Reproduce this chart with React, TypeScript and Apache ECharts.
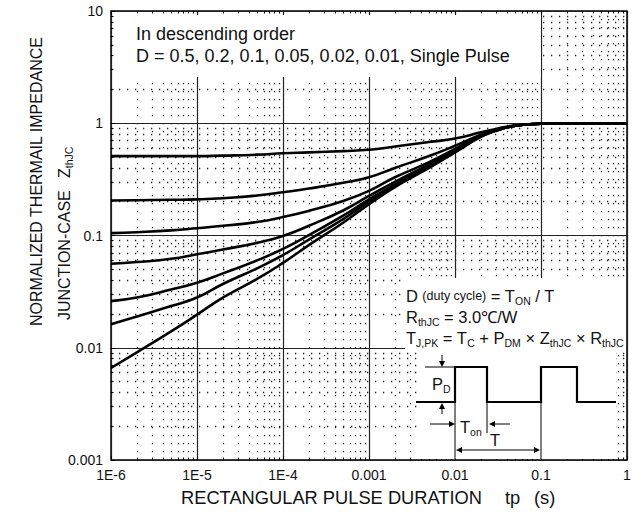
import React, { useEffect, useRef } from 'react';
import * as echarts from 'echarts';

const xTickLabels = ['1E-6', '1E-5', '1E-4', '0.001', '0.01', '0.1', '1'];
const yTickLabels = ['0.001', '0.01', '0.1', '1', '10'];

const pulseWidths = [1e-6, 2e-6, 5e-6, 1e-5, 2e-5, 5e-5, 1e-4, 2e-4, 5e-4, 1e-3, 2e-3, 5e-3, 1e-2, 2e-2, 3e-2, 5e-2, 1e-1, 2e-1, 5e-1, 1];

const seriesNames = ['D = 0.5', 'D = 0.2', 'D = 0.1', 'D = 0.05', 'D = 0.02', 'D = 0.01', 'Single Pulse'];
const zD050 = [0.51, 0.51, 0.51, 0.51, 0.515, 0.525, 0.54, 0.55, 0.565, 0.58, 0.62, 0.68, 0.73, 0.83, 0.89, 0.96, 0.99, 1.0, 1.0, 1.0];
const zD020 = [0.205, 0.206, 0.208, 0.21, 0.215, 0.227, 0.243, 0.262, 0.295, 0.33, 0.4, 0.51, 0.63, 0.79, 0.87, 0.95, 0.99, 1.0, 1.0, 1.0];
const zD010 = [0.105, 0.107, 0.111, 0.116, 0.122, 0.132, 0.146, 0.166, 0.203, 0.25, 0.33, 0.45, 0.59, 0.78, 0.87, 0.95, 0.99, 1.0, 1.0, 1.0];
const zD005 = [0.056, 0.058, 0.062, 0.068, 0.075, 0.086, 0.099, 0.122, 0.167, 0.225, 0.3, 0.43, 0.57, 0.77, 0.865, 0.95, 0.99, 1.0, 1.0, 1.0];
const zD002 = [0.026, 0.028, 0.033, 0.038, 0.046, 0.06, 0.076, 0.101, 0.15, 0.21, 0.285, 0.42, 0.56, 0.765, 0.86, 0.95, 0.99, 1.0, 1.0, 1.0];
const zD001 = [0.0162, 0.019, 0.0235, 0.028, 0.037, 0.051, 0.067, 0.092, 0.14, 0.2, 0.278, 0.41, 0.555, 0.76, 0.86, 0.95, 0.99, 1.0, 1.0, 1.0];
const zSingle = [0.0066, 0.0091, 0.014, 0.0197, 0.028, 0.041, 0.057, 0.082, 0.13, 0.19, 0.27, 0.4, 0.55, 0.76, 0.86, 0.95, 0.99, 1.0, 1.0, 1.0];

const allSeries = [zD050, zD020, zD010, zD005, zD002, zD001, zSingle];

const FONT = '"Liberation Sans", Arial, Helvetica, sans-serif';

export default function App() {
  const ref = useRef<HTMLDivElement>(null);

  useEffect(() => {
    if (!ref.current) return;
    const chart = echarts.init(ref.current, null, { renderer: 'svg' });

    const richBase = {
      n: { fontSize: 16.5, fontFamily: FONT, lineHeight: 20, color: '#111' },
      s: { fontSize: 12.5, fontFamily: FONT, lineHeight: 20, color: '#111' },
      sub: { fontSize: 10.5, fontFamily: FONT, lineHeight: 10, verticalAlign: 'bottom', color: '#111' },
    };

    const txt = (x: number, y: number, text: string, extra: any = {}) => ({
      type: 'text',
      x,
      y,
      z: 30,
      rotation: extra.rotation || 0,
      style: {
        text,
        fill: '#111',
        fontFamily: FONT,
        fontSize: extra.fontSize || 16,
        align: extra.align || 'left',
        verticalAlign: 'middle',
        rich: extra.rich,
      },
    });

    const line = (x1: number, y1: number, x2: number, y2: number, w = 1) => ({
      type: 'line',
      z: 25,
      shape: { x1, y1, x2, y2 },
      style: { stroke: '#000', lineWidth: w },
    });

    const tri = (pts: number[][]) => ({
      type: 'polygon',
      z: 25,
      shape: { points: pts },
      style: { fill: '#000' },
    });

    const graphics: any[] = [
      // white box behind the top-left legend text
      { type: 'rect', z: 10, shape: { x: 115, y: 15, width: 426, height: 62 }, style: { fill: '#fff' } },
      txt(136, 34, 'In descending order', { fontSize: 18 }),
      txt(136, 56, 'D = 0.5, 0.2, 0.1, 0.05, 0.02, 0.01, Single Pulse', { fontSize: 18 }),

      // inset box
      { type: 'rect', z: 10, shape: { x: 405, y: 278, width: 221, height: 71 }, style: { fill: '#fff' } },
      { type: 'rect', z: 10, shape: { x: 418, y: 349, width: 198, height: 110 }, style: { fill: '#fff' } },
      txt(406, 296, '{n|D} {s|(duty cycle)} {n|= T}{sub|ON}{n| / T}', { rich: richBase }),
      txt(406, 317, '{n|R}{sub|thJC}{n| = 3.0℃/W}', { rich: richBase }),
      txt(406, 338, '{n|T}{sub|J,PK}{n| = T}{sub|C}{n| + P}{sub|DM}{n| × Z}{sub|thJC}{n| × R}{sub|thJC}', { rich: richBase }),

      // waveform
      {
        type: 'polyline',
        z: 26,
        shape: {
          points: [[416, 402], [455, 402], [455, 367], [487, 367], [487, 402], [541, 402], [541, 367], [577, 367], [577, 402], [616, 402]],
        },
        style: { stroke: '#000', lineWidth: 2.2, fill: null },
      },
      line(425, 367, 455, 367),
      line(442, 355, 442, 362),
      tri([[439, 361], [445, 361], [442, 367]]),
      line(442, 414, 442, 408),
      tri([[439, 409], [445, 409], [442, 403]]),
      txt(432, 384, '{n|P}{sub|D}', { rich: richBase }),
      line(430, 424, 449, 424),
      tri([[449, 421], [449, 427], [455, 424]]),
      txt(460, 427, '{n|T}{sub|on}', { rich: richBase }),
      line(510, 424, 494, 424),
      tri([[495, 421], [495, 427], [489, 424]]),
      line(487, 402, 487, 433),
      line(455, 402, 455, 459),
      line(541, 402, 541, 459),
      line(462, 450, 534, 450),
      tri([[462, 447], [462, 453], [456, 450]]),
      tri([[534, 447], [534, 453], [540, 450]]),
      txt(495, 440, 'T', { align: 'center', fontSize: 16.5 }),

      // axis titles
      txt(181, 497, 'RECTANGULAR PULSE DURATION', { fontSize: 18.3 }),
      txt(505, 497, 'tp', { fontSize: 18.3 }),
      txt(534, 497, '(s)', { fontSize: 18.3 }),
      txt(36, 326, 'NORMALIZED THERMAIL IMPEDANCE', { fontSize: 16, rotation: Math.PI / 2 }),
      txt(64, 320, 'JUNCTION-CASE', { fontSize: 16, rotation: Math.PI / 2 }),
      txt(64, 178, '{z|Z}{zs|thJC}', {
        rotation: Math.PI / 2,
        rich: {
          z: { fontSize: 16, fontFamily: FONT, lineHeight: 20, color: '#111' },
          zs: { fontSize: 10.5, fontFamily: FONT, lineHeight: 10, verticalAlign: 'bottom', color: '#111' },
        },
      }),
    ];

    const baseX = {
      type: 'log',
      logBase: 10,
      min: 1e-6,
      max: 1,
      axisLine: { show: false },
      axisTick: { show: true, inside: true, length: 4, lineStyle: { color: '#000' } },
      minorTick: { show: true, splitNumber: 9, length: 2.5, lineStyle: { color: '#000' } },
    };

    const option: any = {
      animation: false,
      backgroundColor: '#fff',
      grid: {
        left: 111,
        right: 17,
        top: 11,
        bottom: 56,
        show: true,
        borderColor: '#000',
        borderWidth: 1.5,
        backgroundColor: 'transparent',
      },
      xAxis: [
        {
          ...baseX,
          position: 'bottom',
          splitLine: { show: true, lineStyle: { color: '#222', width: 1.2 } },
          minorSplitLine: { show: true, lineStyle: { color: '#222', width: 1.3, type: [1.3, 6.7] } },
          axisLabel: {
            color: '#111',
            fontFamily: FONT,
            fontSize: 14,
            margin: 8,
            formatter: (v: number) => xTickLabels[Math.round(Math.log10(v)) + 6],
          },
        },
        {
          ...baseX,
          position: 'top',
          splitLine: { show: false },
          minorSplitLine: { show: false },
          axisLabel: { show: false },
        },
      ],
      yAxis: {
        type: 'log',
        logBase: 10,
        min: 0.001,
        max: 10,
        axisLine: { show: false },
        axisTick: { show: true, inside: true, length: 4, lineStyle: { color: '#000' } },
        minorTick: { show: true, splitNumber: 9, length: 2.5, lineStyle: { color: '#000' } },
        splitLine: { show: true, lineStyle: { color: '#222', width: 1.2 } },
        minorSplitLine: { show: true, lineStyle: { color: '#222', width: 1.3, type: [1.3, 6.7] } },
        axisLabel: {
          color: '#111',
          fontFamily: FONT,
          fontSize: 14,
          margin: 8,
          formatter: (v: number) => yTickLabels[Math.round(Math.log10(v)) + 3],
        },
      },
      graphic: graphics,
      series: allSeries.map((vals, k) => ({
        name: seriesNames[k],
        type: 'line',
        xAxisIndex: 0,
        data: pulseWidths.map((x, i) => [x, vals[i]]),
        showSymbol: false,
        symbol: 'none',
        smooth: 0.5,
        lineStyle: { color: '#000', width: 2.6, join: 'round' },
        z: 5,
        silent: true,
      })),
    };

    chart.setOption(option);
    return () => chart.dispose();
  }, []);

  return (
    <div
      ref={ref}
      style={{ position: 'fixed', left: 0, top: 0, width: 644, height: 516, background: '#fff' }}
    />
  );
}
